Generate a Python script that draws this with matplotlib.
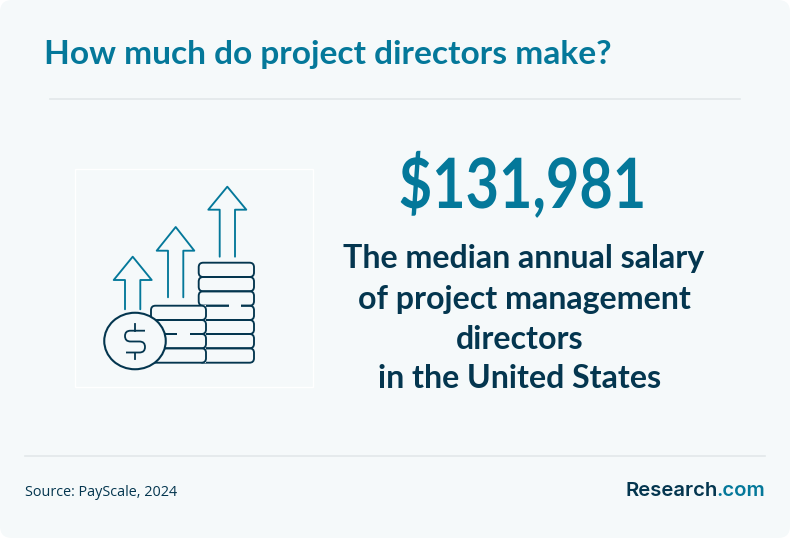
import matplotlib
matplotlib.use("Agg")
import matplotlib.pyplot as plt
from matplotlib.patches import FancyBboxPatch, Ellipse, PathPatch, Rectangle
from matplotlib.path import Path
from matplotlib.patheffects import AbstractPathEffect
from matplotlib.transforms import Affine2D

title = "How much do project directors make?"
value_label = "$131,981"
desc_lines = ["The median annual salary", "of project management", "directors", "in the United States"]
source = "Source: PayScale, 2024"
brand = ["Research", ".com"]

BG = "#f5f9fa"; TEAL = "#04789a"; NAVY = "#04364f"; RULE = "#e2e8ea"
W, H = 790, 538
fig = plt.figure(figsize=(W/100, H/100), dpi=100, facecolor="white")
ax = fig.add_axes([0, 0, 1, 1]); ax.set_xlim(0, W); ax.set_ylim(H, 0); ax.axis("off")
ax.add_patch(FancyBboxPatch((0, 0), W, H, boxstyle="round,pad=0,rounding_size=12", fc=BG, ec="none"))


class Condense(AbstractPathEffect):
    """Narrow a text horizontally about a display x position."""
    def __init__(self, xc, sx):
        super().__init__()
        self.xc, self.sx = xc, sx

    def draw_path(self, renderer, gc, tpath, affine, rgbFace=None):
        aff = affine + Affine2D().translate(-self.xc, 0).scale(self.sx, 1).translate(self.xc, 0)
        renderer.draw_path(gc, tpath, aff, rgbFace)


F = "Lato"
ax.text(44.5, 64, title, color=TEAL, fontsize=24.1, fontweight="bold", family=F, va="baseline")
ax.plot([50, 740], [99, 99], color=RULE, lw=1.2)
ax.plot([25, 765], [456, 456], color=RULE, lw=1.2)
ax.text(522.5, 208, value_label, color=TEAL, fontsize=50, fontweight="bold", family=F, ha="center", va="baseline",
        path_effects=[Condense(522.5, 0.83)])
for t, x, y in zip(desc_lines, [524, 524, 520, 520], [268, 309, 349, 388]):
    ax.text(x, y, t, color=NAVY, fontsize=23.1, fontweight="bold", family=F, ha="center", va="baseline")
ax.text(25, 496, source, color=NAVY, fontsize=10.4, fontweight="medium", family="Open Sans", va="baseline")
t2 = ax.text(765, 496.5, brand[1], color=TEAL, fontsize=14.6, fontweight="semibold", family="Inter", ha="right", va="baseline")
fig.canvas.draw()
bb = t2.get_window_extent()
ax.text(bb.x0 + 2, 496.5, brand[0], color=NAVY, fontsize=14.6, fontweight="semibold", family="Inter", ha="right", va="baseline")

LW = 1.35
ax.add_patch(Rectangle((75, 169), 238, 218, fc="none", ec="white", lw=1))
for tip, wy, wl, wr, sl, sr, b in [
    ((132.7, 256.7), 280, 113.7, 151.7, 125, 140.3, 309.3),
    ((175.7, 227), 250.7, 156.7, 194.3, 168, 183.3, 297.3),
    ((227.3, 186.7), 209.7, 208.3, 246.3, 219.7, 235, 256.7)]:
    ax.plot([sl, sl, wl, tip[0], wr, sr, sr], [b, wy, wy, tip[1], wy, wy, b], color=TEAL, lw=LW,
            solid_joinstyle="round", solid_capstyle="round")


def coin(x0, x1, y0, y1, z=2):
    ax.add_patch(FancyBboxPatch((x0, y0), x1-x0, y1-y0, boxstyle="round,pad=0,rounding_size=4.5",
                                fc="none", ec=NAVY, lw=LW, zorder=z))


ry = [262.7, 277, 291.3, 305.7, 320, 334, 348.3, 362.7]
for a, b in zip(ry[:-1], ry[1:]):
    coin(198.7, 254, a, b)
ax.add_patch(Rectangle((229, 303.5), 12, 4.4, fc=BG, ec="none", zorder=3))
ly = [305.7, 320, 334, 348.3, 362.7]
ax.add_patch(Rectangle((151, 305), 55, 58, fc=BG, ec="none", zorder=4))
for a, b in zip(ly[:-1], ly[1:]):
    coin(151, 206, a, b, z=5)
ax.add_patch(Rectangle((177, 331.8), 12.5, 4.4, fc=BG, ec="none", zorder=6))
ax.add_patch(Ellipse((135, 341), 61.5, 56.5, fc=BG, ec=NAVY, lw=1.5, zorder=7))
s = Path([(145, 330.7), (130.5, 330.7), (125, 330.7), (125, 336), (125, 341.5), (130.5, 341.5),
          (139.5, 341.5), (145, 341.5), (145, 347), (145, 352.5), (139.5, 352.5), (126, 352.5)],
         [Path.MOVETO, Path.LINETO, Path.CURVE3, Path.CURVE3, Path.CURVE3, Path.CURVE3,
          Path.LINETO, Path.CURVE3, Path.CURVE3, Path.CURVE3, Path.CURVE3, Path.LINETO])
ax.add_patch(PathPatch(s, fc="none", ec=NAVY, lw=1.3, zorder=8))
ax.plot([135, 135], [324, 330.7], color=NAVY, lw=1.3, zorder=8)
ax.plot([135, 135], [352.5, 358.5], color=NAVY, lw=1.3, zorder=8)
fig.savefig("out.png", dpi=100, facecolor="white")
